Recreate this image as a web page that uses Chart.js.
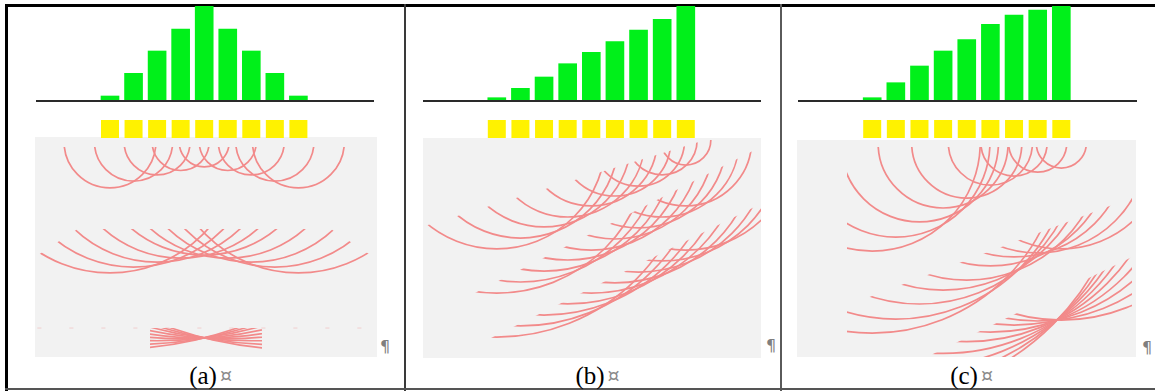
<!DOCTYPE html>
<html>
<head>
<meta charset="utf-8">
<script src="https://cdn.jsdelivr.net/npm/chart.js@4.4.1/dist/chart.umd.min.js"></script>
<style>
  html, body { margin: 0; padding: 0; background: #fff; }
  #page { position: relative; width: 1155px; height: 391px; overflow: hidden; background: #fff; }
  canvas { position: absolute; }
  .rule { position: absolute; }
  .cap { position: absolute; font-family: "Liberation Serif", "Times New Roman", serif; font-size: 25px;
         line-height: 25px; color: #000; white-space: nowrap; transform: translateX(-50%); }
  .cap .mark { position: absolute; left: 100%; top: 0px; margin-left: 3px; font-family: "DejaVu Sans", sans-serif;
               font-size: 19px; color: #8a8a8a; }
  .para { position: absolute; font-family: "DejaVu Sans", sans-serif; font-size: 16px; line-height: 16px; color: #7f7f7f; }
</style>
</head>
<body>
<div id="page"></div>
<script>
// Transducer elements (index along the array)
const elements = [1, 2, 3, 4, 5, 6, 7, 8, 9];

// Firing delay of each element (bar heights, normalised per panel)
const delaysA = [4, 26.7, 49, 71, 94, 71, 49, 26.7, 4];
const delaysB = [2.3, 11.7, 23, 36.3, 47.7, 58.3, 70, 80.7, 94];
const delaysC = [2.3, 17.3, 34, 49, 60.3, 75.7, 85, 90, 94];

// Wavefront radius of every element at three instants (element-pitch units)
const radiiA1 = [1.95, 1.66, 1.40, 1.21, 1.06, 1.21, 1.40, 1.66, 1.95];
const radiiA2 = [5.56, 5.31, 5.10, 4.93, 4.80, 4.93, 5.10, 5.31, 5.56];
const radiiA3 = [16.45, 16.24, 16.08, 15.99, 15.96, 15.99, 16.08, 16.24, 16.45];
const radiiB1 = [4.61, 4.15, 3.68, 3.26, 2.79, 2.37, 1.95, 1.48, 1.06];
const radiiB2 = [6.48, 6.01, 5.55, 5.08, 4.66, 4.19, 3.72, 3.26, 2.79];
const radiiB3 = [8.34, 7.87, 7.41, 6.94, 6.48, 6.05, 5.59, 5.12, 4.66];
const radiiC1 = [4.57, 3.98, 3.34, 2.75, 2.33, 1.78, 1.40, 1.23, 1.06];
const radiiC2 = [8.04, 7.45, 6.81, 6.22, 5.80, 5.20, 4.82, 4.65, 4.48];
const radiiC3 = [10.83, 10.13, 9.48, 8.90, 8.40, 8.00, 7.70, 7.53, 7.49];

// Sub-figure labels
const captions = ['(a)', '(b)', '(c)'];

const GREEN = '#00F01A';
const YELLOW = '#FFF200';
const WAVE = 'rgb(242,138,138)';
const ELEMENT_ROW = -29;   // row of the element squares, in bar units below the baseline

// Panel geometry (page pixels) and wave snapshots
const panels = [
  {
    delays: delaysA, el1: 110, pitch: 23.55,
    bars: { left: 36, right: 374 },
    box: { left: 35, right: 377, top: 137, bottom: 357, array: 142 },
    waves: [
      { radii: radiiA1, source: 0,     edge: [[-2.4, 0.21], [12.4, 0.21]] },
      { radii: radiiA2, source: 0,     edge: [[-2.4, 5.02], [-0.38, 3.69], [10.38, 3.69], [12.4, 5.02]] },
      { radii: radiiA3, source: -7.64, edge: [[2.70, 7.90], [7.45, 7.90]] }
    ],
    guide: 7.90,
    caption: { x: 203 }, pilcrow: { x: 380, y: 339 }
  },
  {
    delays: delaysB, el1: 496.8, pitch: 23.625,
    bars: { left: 423, right: 761 },
    box: { left: 423, right: 761, top: 138, bottom: 358, array: 140 },
    waves: [
      { radii: radiiB1, source: 0, edge: [[-2.4, 3.75], [12.4, -0.79]] },
      { radii: radiiB2, source: 0, edge: [[-2.4, 7.74], [12.4, 0.18]] },
      { radii: radiiB3, source: 0, edge: [[-2.4, 9.95], [12.4, 2.59]] }
    ],
    guide: null,
    caption: { x: 590 }, pilcrow: { x: 766, y: 338 }
  },
  {
    delays: delaysC, el1: 872.2, pitch: 23.64,
    bars: { left: 798, right: 1137 },
    box: { left: 797, right: 1136, top: 140, bottom: 357, array: 143 },
    waves: [
      { radii: radiiC1, source: 0, edge: [[-0.066, 0.17], [11.99, 0.17]] },
      { radii: radiiC2, source: 0, edge: [[-0.066, 6.874], [11.99, 2.304]] },
      { radii: radiiC3, source: 0, edge: [[-0.066, 10.696], [11.99, 4.825]] }
    ],
    guide: null,
    caption: { x: 964 }, pilcrow: { x: 1142, y: 340 }
  }
];

const page = document.getElementById('page');

function addDiv(cls, style, html) {
  const d = document.createElement('div');
  d.className = cls;
  Object.assign(d.style, style);
  if (html !== undefined) d.innerHTML = html;
  page.appendChild(d);
  return d;
}

function addCanvas(left, top, width, height, z) {
  const c = document.createElement('canvas');
  c.width = width; c.height = height;
  Object.assign(c.style, { left: left + 'px', top: top + 'px', width: width + 'px', height: height + 'px', zIndex: z });
  page.appendChild(c);
  return c;
}

// Table rules
addDiv('rule', { left: '5px', top: '4px', width: '1150px', height: '3px', background: '#000' });
addDiv('rule', { left: '5px', top: '4px', width: '3px', height: '387px', background: '#000' });
addDiv('rule', { left: '404px', top: '4px', width: '2px', height: '387px', background: '#3a3a3a' });
addDiv('rule', { left: '780px', top: '4px', width: '2px', height: '387px', background: '#5a5a5a' });
addDiv('rule', { left: '5px', top: '388px', width: '1150px', height: '2px', background: '#555' });

// Baseline under the delay bars
const baselinePlugin = {
  id: 'baseline',
  afterDatasetsDraw(chart) {
    const { ctx, chartArea, scales } = chart;
    const y = scales.y.getPixelForValue(0) + 1;
    ctx.save();
    ctx.strokeStyle = '#2a2a2a';
    ctx.lineWidth = 2.2;
    ctx.beginPath();
    ctx.moveTo(chartArea.left, y);
    ctx.lineTo(chartArea.right, y);
    ctx.stroke();
    ctx.restore();
  }
};

// Grey field and circular wavefronts around each element
const wavePlugin = {
  id: 'wavefronts',
  beforeDatasetsDraw(chart) {
    const { ctx, chartArea } = chart;
    ctx.save();
    ctx.fillStyle = '#F2F2F2';
    ctx.fillRect(chartArea.left, chartArea.top, chartArea.width, chartArea.height);
    ctx.restore();
  },
  afterDatasetsDraw(chart) {
    const { ctx, chartArea: ca, scales } = chart;
    const xs = scales.x, ys = scales.y;
    chart.data.datasets.forEach(ds => {
      if (!ds.radii) return;
      ctx.save();
      ctx.beginPath();
      ctx.rect(ca.left, ca.top, ca.width, ca.height);
      ctx.clip();
      // keep only the part of each circle below the snapshot edge
      ctx.beginPath();
      ds.edge.forEach(([x, d], k) => {
        const px = xs.getPixelForValue(x), py = ys.getPixelForValue(d);
        if (k) ctx.lineTo(px, py); else ctx.moveTo(px, py);
      });
      const first = ds.edge[0], last = ds.edge[ds.edge.length - 1];
      ctx.lineTo(xs.getPixelForValue(last[0]), ca.bottom + 20);
      ctx.lineTo(xs.getPixelForValue(first[0]), ca.bottom + 20);
      ctx.closePath();
      ctx.clip();
      ctx.strokeStyle = WAVE;
      ctx.lineWidth = 1.7;
      ds.data.forEach((pt, i) => {
        const cx = xs.getPixelForValue(pt.x);
        const cy = ys.getPixelForValue(pt.y);
        const r = Math.abs(xs.getPixelForValue(pt.x + ds.radii[i]) - cx);
        ctx.beginPath();
        ctx.arc(cx, cy, r, 0, Math.PI);
        ctx.stroke();
      });
      ctx.restore();
    });
  }
};

const common = {
  responsive: false,
  animation: false,
  devicePixelRatio: 1,
  events: [],
  layout: { padding: 0, autoPadding: false },
  plugins: { legend: { display: false }, tooltip: { enabled: false } }
};

panels.forEach((p, idx) => {
  // --- delay bars + element squares ---
  const barTop = 6, barH = 134;
  const bw = p.bars.right - p.bars.left;
  const bc = addCanvas(p.bars.left, barTop, bw, barH, 2);
  new Chart(bc, {
    type: 'bar',
    data: {
      datasets: [
        {
          type: 'bar',
          data: elements.map((e, i) => ({ x: e, y: p.delays[i] })),
          backgroundColor: GREEN,
          borderWidth: 0,
          barThickness: 18,
          grouped: false
        },
        {
          type: 'scatter',
          data: elements.map(e => ({ x: e, y: ELEMENT_ROW })),
          pointStyle: 'rect',
          pointRadius: 9 / Math.SQRT1_2,
          backgroundColor: YELLOW,
          borderWidth: 0,
          showLine: false
        }
      ]
    },
    options: Object.assign({}, common, {
      scales: {
        x: {
          type: 'linear', display: false, offset: false, bounds: 'data',
          min: 1 - (p.el1 - p.bars.left) / p.pitch,
          max: 1 + (p.bars.right - p.el1) / p.pitch
        },
        y: { type: 'linear', display: false, bounds: 'data', min: -40, max: 94 }
      }
    }),
    plugins: [baselinePlugin]
  });

  // --- wave field ---
  const bx = p.box;
  const wc = addCanvas(bx.left, bx.top, bx.right - bx.left, bx.bottom - bx.top, 1);
  const datasets = p.waves.map(w => ({
    type: 'scatter',
    data: elements.map(e => ({ x: e, y: w.source })),
    radii: w.radii,
    edge: w.edge,
    pointRadius: 0,
    showLine: false
  }));
  const xMin = 1 - (p.el1 - bx.left) / p.pitch;
  const xMax = 1 + (bx.right - p.el1) / p.pitch;
  if (p.guide !== null) {
    datasets.push({
      type: 'line',
      data: [{ x: xMin + 0.1, y: p.guide }, { x: xMax - 0.2, y: p.guide }],
      borderColor: 'rgba(240,140,140,0.35)',
      borderWidth: 1,
      borderDash: [4, 28],
      pointRadius: 0,
      fill: false
    });
  }
  new Chart(wc, {
    type: 'scatter',
    data: { datasets },
    options: Object.assign({}, common, {
      scales: {
        x: { type: 'linear', display: false, offset: false, bounds: 'data', min: xMin, max: xMax },
        y: {
          type: 'linear', display: false, bounds: 'data', reverse: true,
          min: (bx.top - bx.array) / p.pitch,
          max: (bx.bottom - bx.array) / p.pitch
        }
      }
    }),
    plugins: [wavePlugin]
  });

  // --- caption and paragraph marks ---
  addDiv('cap', { left: p.caption.x + 'px', top: '363px' }, captions[idx] + '<span class="mark">¤</span>');
  addDiv('para', { left: p.pilcrow.x + 'px', top: p.pilcrow.y + 'px' }, '¶');
});
</script>
</body>
</html>
